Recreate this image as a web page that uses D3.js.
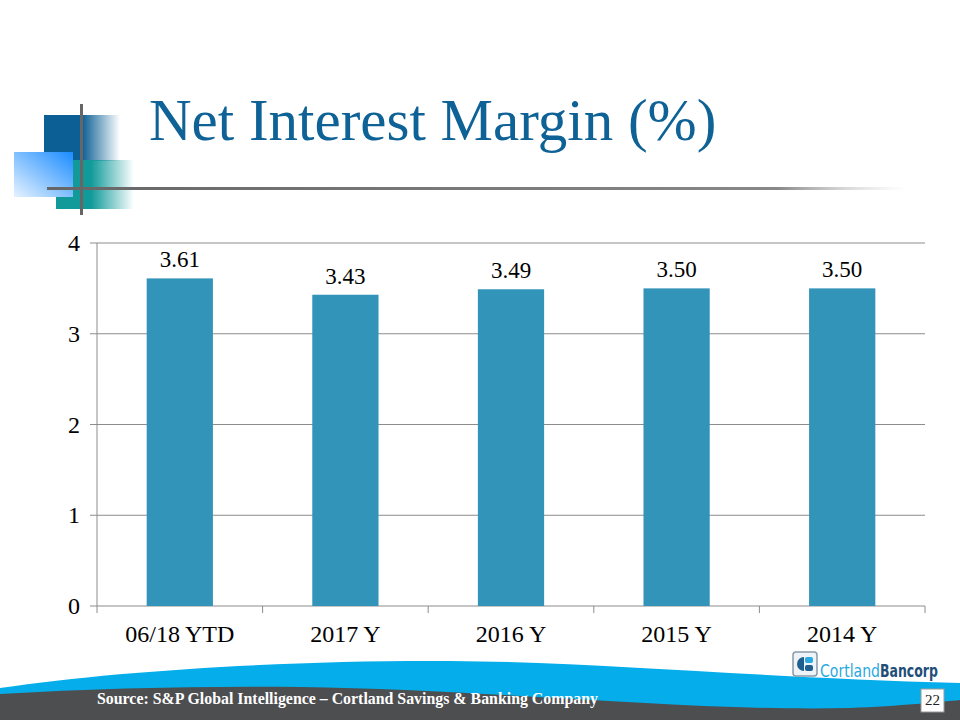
<!DOCTYPE html>
<html><head><meta charset="utf-8">
<script src="https://cdn.jsdelivr.net/npm/d3@7"></script>
<style>body{margin:0;background:#fff}svg{display:block}</style>
</head><body>
<script>
const categories = ["06/18 YTD","2017 Y","2016 Y","2015 Y","2014 Y"];
const values = [3.61,3.43,3.49,3.50,3.50];
const valueLabels = ["3.61","3.43","3.49","3.50","3.50"];
const yTicks = [0,1,2,3,4];
const title = "Net Interest Margin (%)";
const source = "Source: S&P Global Intelligence \u2013 Cortland Savings & Banking Company";
const pageNum = "22";
const logoWords = ["Cortland","Bancorp"];

const W=960,H=720;
const svg=d3.select("body").append("svg").attr("width",W).attr("height",H);
const defs=svg.append("defs");

function lg(id,x1,y1,x2,y2,stops){const g=defs.append("linearGradient").attr("id",id).attr("x1",x1).attr("y1",y1).attr("x2",x2).attr("y2",y2);stops.forEach(s=>g.append("stop").attr("offset",s[0]).attr("stop-color",s[1]).attr("stop-opacity",s[2]));}
lg("gDark","0","0","1","0",[[0,"#0b5f94",1],[0.5,"#0b5f94",1],[1,"#0b5f94",0]]);
lg("gTeal","0","0","1","0",[[0,"#129a9a",1],[0.45,"#129a9a",1],[1,"#129a9a",0]]);
lg("gLight","0","1","1","0",[[0,"#e6f2ff",1],[1,"#1a8cff",1]]);
lg("gLine","0","0","1","0",[[0,"#666",1],[0.85,"#888",1],[1,"#ccc",0]]);

svg.append("rect").attr("x",44).attr("y",115).attr("width",76).attr("height",46).attr("fill","url(#gDark)");
svg.append("rect").attr("x",56).attr("y",160).attr("width",78).attr("height",49).attr("fill","url(#gTeal)");
svg.append("rect").attr("x",14).attr("y",152).attr("width",59).attr("height",45).attr("fill","url(#gLight)");
svg.append("rect").attr("x",80).attr("y",104).attr("width",3).attr("height",111).attr("fill","#666");
svg.append("rect").attr("x",47).attr("y",187).attr("width",860).attr("height",3).attr("fill","url(#gLine)");

svg.append("text").attr("x",149).attr("y",140).attr("font-family","Liberation Serif, serif")
  .attr("font-size",59).attr("fill","#0e6296").text(title);

const x=d3.scaleBand().domain(categories).range([97,925]).paddingInner(0.6).paddingOuter(0.3);
const xb=d3.scaleBand().domain(categories).range([97,925]);
const y=d3.scaleLinear().domain([0,4]).range([606,243]);
const g=svg.append("g");
g.selectAll("line.grid").data(yTicks).join("line").attr("class","grid")
  .attr("x1",90).attr("x2",925).attr("y1",d=>y(d)).attr("y2",d=>y(d))
  .attr("stroke","#8c8c8c").attr("stroke-width",1);
g.append("line").attr("x1",97).attr("x2",97).attr("y1",243).attr("y2",606).attr("stroke","#8c8c8c");
const bounds=categories.map(c=>xb(c)).concat([925]);
g.selectAll("line.xt").data(bounds).join("line").attr("class","xt")
  .attr("x1",d=>d).attr("x2",d=>d).attr("y1",606).attr("y2",613).attr("stroke","#8c8c8c");
g.selectAll("text.yt").data(yTicks).join("text").attr("class","yt")
  .attr("x",80).attr("y",d=>y(d)+8).attr("text-anchor","end")
  .attr("font-family","Liberation Serif, serif").attr("font-size",24).attr("fill","#000").text(d=>d);
g.selectAll("rect.bar").data(values).join("rect").attr("class","bar")
  .attr("x",(d,i)=>x(categories[i])).attr("width",x.bandwidth())
  .attr("y",d=>y(d)).attr("height",d=>y(0)-y(d)).attr("fill","#3394ba");
g.selectAll("text.vl").data(values).join("text").attr("class","vl")
  .attr("x",(d,i)=>x(categories[i])+x.bandwidth()/2).attr("y",d=>y(d)-11)
  .attr("text-anchor","middle").attr("font-family","Liberation Serif, serif").attr("font-size",23).text((d,i)=>valueLabels[i]);
g.selectAll("text.cl").data(categories).join("text").attr("class","cl")
  .attr("x",d=>xb(d)+xb.bandwidth()/2).attr("y",642).attr("text-anchor","middle")
  .attr("font-family","Liberation Serif, serif").attr("font-size",24).text(d=>d);

svg.append("path").attr("fill","#05aeea")
  .attr("d","M0,688 C120,670 300,660 450,661 C600,662 760,678 960,683 L960,720 L0,720 Z");
svg.append("path").attr("fill","#4d4e50")
  .attr("d","M0,694 C100,688 200,686 300,687 C500,690 700,712 850,708 C900,706 940,702 960,700 L960,720 L0,720 Z");
svg.append("text").attr("x",97).attr("y",704).attr("font-family","Liberation Serif, serif")
  .attr("font-weight","bold").attr("font-size",16).attr("textLength",501).attr("lengthAdjust","spacingAndGlyphs")
  .attr("fill","#fff").text(source);
svg.append("rect").attr("x",921).attr("y",689).attr("width",23).attr("height",23).attr("fill","#fff").attr("stroke","#999");
svg.append("text").attr("x",932.5).attr("y",705).attr("text-anchor","middle").attr("font-family","Liberation Serif, serif")
  .attr("font-size",15).attr("fill","#222").text(pageNum);

const lgG=svg.append("g");
lgG.append("rect").attr("x",793).attr("y",652).attr("width",24).attr("height",24).attr("rx",3).attr("fill","#eef3f7").attr("stroke","#8a9aa8").attr("stroke-width",1.5);
lgG.append("path").attr("d","M804,657 A7,7 0 0 0 804,671 Z").attr("fill","#1f5f8f");
lgG.append("rect").attr("x",805).attr("y",657).attr("width",8).attr("height",6).attr("rx",2).attr("fill","#29a9e0");
lgG.append("rect").attr("x",805).attr("y",665).attr("width",8).attr("height",6).attr("rx",2).attr("fill","#1f5f8f");
lgG.append("text").attr("x",820).attr("y",677).attr("font-family","DejaVu Sans Condensed, sans-serif").attr("font-size",17)
  .attr("textLength",60).attr("lengthAdjust","spacingAndGlyphs").attr("fill","#29a9e0").text(logoWords[0]);
lgG.append("text").attr("x",880).attr("y",677).attr("font-family","DejaVu Sans Condensed, sans-serif").attr("font-size",17)
  .attr("font-weight","bold").attr("textLength",58).attr("lengthAdjust","spacingAndGlyphs").attr("fill","#1f4e79").text(logoWords[1]);
</script>
</body></html>
